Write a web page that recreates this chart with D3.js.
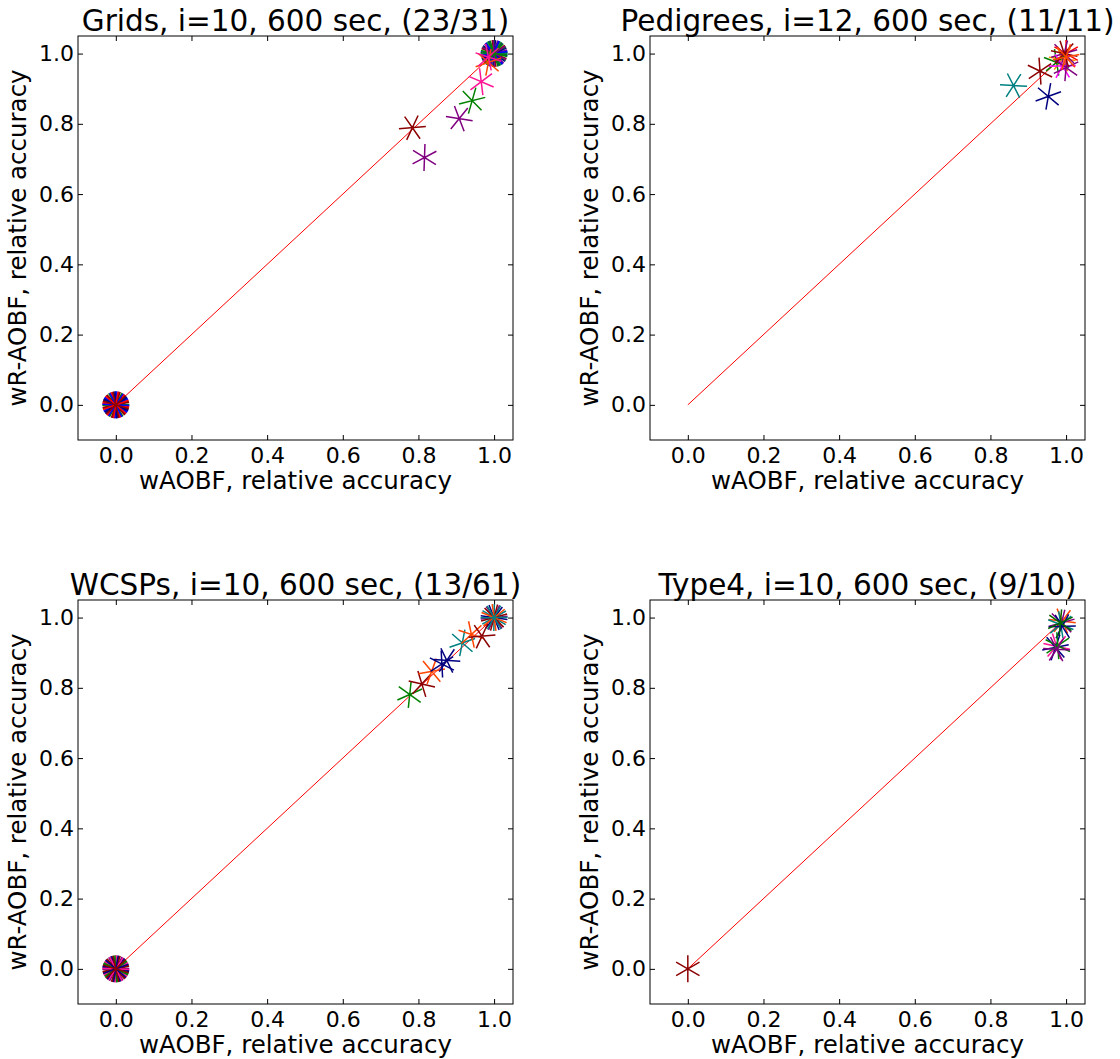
<!DOCTYPE html>
<html><head><meta charset="utf-8">
<script src="https://cdn.jsdelivr.net/npm/d3@7"></script>
<style>body{margin:0;background:#fff}svg{display:block}text{font-family:"DejaVu Sans",sans-serif}</style>
</head><body><svg id="c" width="1120" height="1059"></svg>
<script>
const titles = ["Grids, i=10, 600 sec, (23/31)", "Pedigrees, i=12, 600 sec, (11/11)", "WCSPs, i=10, 600 sec, (13/61)", "Type4, i=10, 600 sec, (9/10)"];
const tickValues = [0.0, 0.2, 0.4, 0.6, 0.8, 1.0];
const tickLabels = ["0.0", "0.2", "0.4", "0.6", "0.8", "1.0"];
const xLabel = "wAOBF, relative accuracy";
const yLabel = "wR-AOBF, relative accuracy";

// Grids
const gridsX = [0,0,0,0,0,0,0,0,0,0,0,0, 1,1,1,1,1,1,1,1,1,1,1, 0.985,0.985, 0.784,0.816,0.908,0.942,0.966];
const gridsY = [0,0,0,0,0,0,0,0,0,0,0,0, 1,1,1,1,1,1,1,1,1,1,1, 0.975,0.99, 0.789,0.704,0.815,0.866,0.920];
const gridsC = ["blue","red","darkred","navy","green","blue","red","darkred","navy","blue","red","darkred",
  "navy","green","blue","purple","darkred","teal","navy","green","blue","purple","green",
  "orangered","deeppink","darkred","purple","purple","green","deeppink"];
// Pedigrees
const pedX = [1.0,0.99,0.995,0.975,0.99,1.0,0.995,1.0,0.931,0.861,0.953];
const pedY = [1.0,0.985,1.0,0.975,0.965,0.96,1.0,0.99,0.950,0.909,0.878];
const pedC = ["red","darkorange","purple","green","magenta","purple","darkred","orangered","darkred","teal","navy"];
// WCSPs
const wcspX = [0,0,0,0,0,0,0,0,0,0,0,0, 1,1,1,1,1,1, 0.777,0.809,0.835,0.862,0.875,0.916,0.940,0.968];
const wcspY = [0,0,0,0,0,0,0,0,0,0,0,0, 1,1,1,1,1,1, 0.781,0.811,0.847,0.868,0.878,0.928,0.952,0.947];
const wcspC = ["deeppink","navy","darkred","green","purple","deeppink","navy","darkred","green","deeppink","navy","darkred",
  "purple","teal","navy","darkred","orangered","teal",
  "green","darkred","orangered","navy","navy","teal","orangered","darkred"];
// Type4
const t4X = [0, 0.99,0.988,0.986,0.99,0.985, 0.975,0.972,0.978,0.975];
const t4Y = [0, 0.99,0.985,0.98,0.975,0.985, 0.918,0.915,0.92,0.91];
const t4C = ["darkred","orangered","purple","teal","navy","darkgreen","deeppink","navy","green","purple"];

const panelData = [[gridsX,gridsY,gridsC],[pedX,pedY,pedC],[wcspX,wcspY,wcspC],[t4X,t4Y,t4C]];
const origins = [[78,36],[650,36],[78,600],[650,600]];
const W = 435, H = 404;

const svg = d3.select("#c");
svg.append("rect").attr("width",1120).attr("height",1059).attr("fill","#fff");

const x = d3.scaleLinear().domain([-0.1,1.05]).range([0,W]);
const y = d3.scaleLinear().domain([-0.1,1.05]).range([H,0]);
const fmt = (d,i) => tickLabels[i];

function star(r, rot){
  let p = "";
  for (let k=0;k<3;k++){
    const a = (90 + k*60 + rot) * Math.PI/180;
    p += `M${-r*Math.cos(a)},${r*Math.sin(a)}L${r*Math.cos(a)},${-r*Math.sin(a)}`;
  }
  return p;
}

panelData.forEach((pd,pi) => {
  const [ox,oy] = origins[pi];
  const g = svg.append("g").attr("transform",`translate(${ox},${oy})`);
  const clip = "clip"+pi;
  g.append("clipPath").attr("id",clip).append("rect").attr("width",W).attr("height",H);

  const ax = g.append("g").attr("transform",`translate(0,${H})`)
    .call(d3.axisBottom(x).tickValues(tickValues).tickFormat(fmt).tickSizeInner(-5).tickSizeOuter(0).tickPadding(7));
  const ay = g.append("g")
    .call(d3.axisLeft(y).tickValues(tickValues).tickFormat(fmt).tickSizeInner(-5).tickSizeOuter(0).tickPadding(4));
  const at = g.append("g")
    .call(d3.axisTop(x).tickValues(tickValues).tickFormat("").tickSizeInner(-5).tickSizeOuter(0));
  const ar = g.append("g").attr("transform",`translate(${W},0)`)
    .call(d3.axisRight(y).tickValues(tickValues).tickFormat("").tickSizeInner(-5).tickSizeOuter(0));
  [ax,ay,at,ar].forEach(a => {
    a.select(".domain").remove();
    a.selectAll("line").attr("stroke","#000").attr("stroke-width",1);
    a.selectAll("text").style("font-family","DejaVu Sans").style("font-size","22px").attr("fill","#000");
  });

  const plot = g.append("g").attr("clip-path",`url(#${clip})`);
  plot.append("line").attr("x1",x(0)).attr("y1",y(0)).attr("x2",x(1)).attr("y2",y(1))
    .attr("stroke","red").attr("stroke-width",1);

  const [xs,ys,cs] = pd;
  plot.selectAll("path.m").data(xs.map((v,i)=>({x:v,y:ys[i],c:cs[i],i}))).join("path")
    .attr("class","m")
    .attr("transform",d=>`translate(${x(d.x)},${y(d.y)})`)
    .attr("d",d=>star(13.5, (d.i*23)%60))
    .attr("fill","none").attr("stroke",d=>d.c).attr("stroke-width",1.5);

  g.append("rect").attr("width",W).attr("height",H).attr("fill","none").attr("stroke","#000").attr("stroke-width",1);

  g.append("text").attr("x",W/2).attr("y",-5).attr("text-anchor","middle")
    .style("font-size","29.5px").text(titles[pi]);
  g.append("text").attr("x",W/2).attr("y",H+49).attr("text-anchor","middle")
    .style("font-size","24.5px").text(xLabel);
  g.append("text").attr("transform",`translate(-52,${H/2}) rotate(-90)`).attr("text-anchor","middle")
    .style("font-size","24.5px").text(yLabel);
});
</script></body></html>
